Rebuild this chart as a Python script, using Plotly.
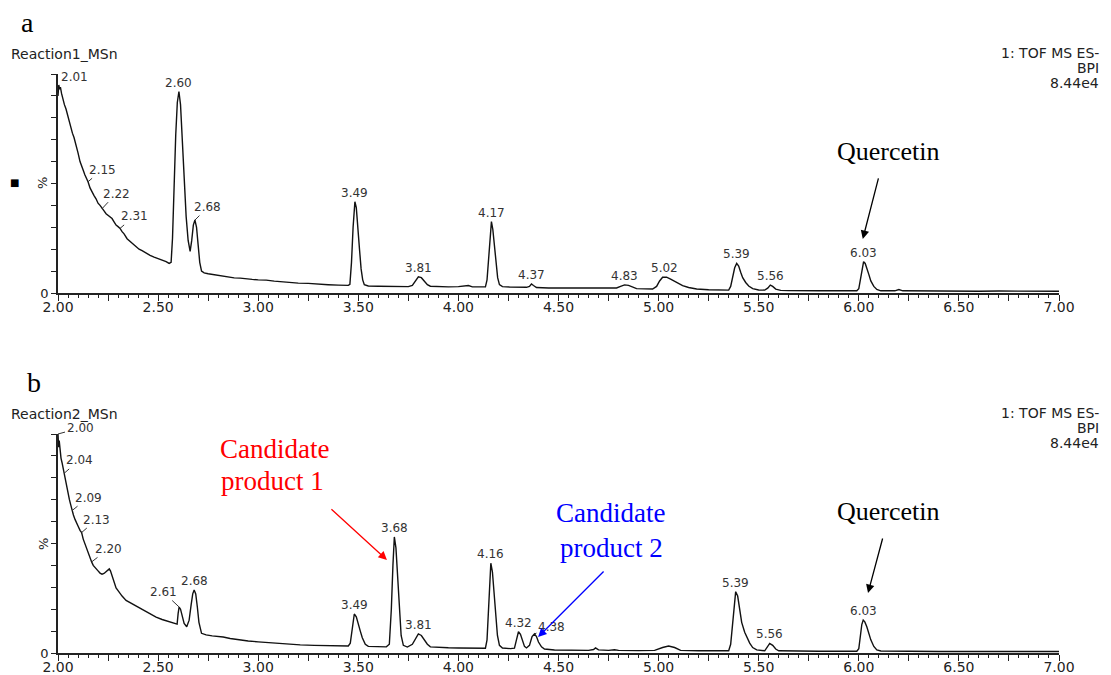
import plotly.graph_objects as go

# ---------------- data ----------------
# Panel a: Reaction1_MSn (retention time, min ; relative intensity, %)
ta_time = [2.000, 2.004, 2.008, 2.012, 2.018, 2.025, 2.032, 2.040, 2.048, 2.056, 2.064, 2.072, 2.080,
           2.090, 2.100, 2.110, 2.118, 2.126, 2.134, 2.142, 2.150, 2.160, 2.170, 2.180, 2.190, 2.200,
           2.210, 2.220, 2.230, 2.240, 2.250, 2.260, 2.270, 2.280, 2.290, 2.300, 2.310, 2.320, 2.330,
           2.345, 2.360, 2.375, 2.390, 2.405, 2.420, 2.440, 2.460, 2.480, 2.500, 2.520, 2.540, 2.555,
           2.565, 2.572, 2.580, 2.588, 2.596, 2.604, 2.612, 2.620, 2.630, 2.640, 2.650, 2.660, 2.668,
           2.676, 2.684, 2.692, 2.700, 2.708, 2.717, 2.730, 2.750, 2.770, 2.790, 2.820, 2.850, 2.880,
           2.910, 2.940, 2.970, 3.000, 3.040, 3.080, 3.120, 3.160, 3.200, 3.250, 3.300, 3.350, 3.400,
           3.450, 3.458, 3.466, 3.474, 3.483, 3.490, 3.498, 3.506, 3.514, 3.522, 3.530, 3.550, 3.600,
           3.650, 3.700, 3.750, 3.770, 3.785, 3.800, 3.815, 3.830, 3.845, 3.860, 3.900, 3.950, 4.000,
           4.050, 4.070, 4.100, 4.135, 4.143, 4.150, 4.158, 4.165, 4.172, 4.180, 4.188, 4.196, 4.205,
           4.220, 4.260, 4.300, 4.340, 4.355, 4.365, 4.375, 4.390, 4.450, 4.500, 4.550, 4.600, 4.650,
           4.700, 4.750, 4.790, 4.810, 4.830, 4.850, 4.870, 4.890, 4.930, 4.970, 4.990, 5.005, 5.020,
           5.040, 5.060, 5.080, 5.100, 5.120, 5.150, 5.190, 5.250, 5.300, 5.350, 5.360, 5.370, 5.380,
           5.390, 5.400, 5.410, 5.420, 5.435, 5.450, 5.470, 5.500, 5.530, 5.545, 5.558, 5.570, 5.585,
           5.610, 5.650, 5.700, 5.800, 5.900, 5.990, 6.000, 6.010, 6.018, 6.024, 6.032, 6.040, 6.050,
           6.060, 6.075, 6.090, 6.110, 6.180, 6.200, 6.220, 6.300, 6.400, 6.500, 6.600, 6.700, 6.800,
           6.900, 7.000]
ta_int = [90, 95, 93, 94, 91, 88, 86, 84, 81, 78, 76, 73, 71,
          68, 64, 60, 57.5, 56, 54, 52.5, 50.8, 48, 46, 44.5, 43, 41,
          40, 38.5, 37.5, 36.2, 35.5, 34.8, 34, 32.5, 31, 30.3, 29.5, 28, 27,
          24.8, 23.5, 22.5, 21, 20, 19.3, 18.1, 17.2, 16.4, 15.8, 15, 14.3, 13.5,
          14, 25, 50, 72, 87, 92, 86, 72, 52, 35, 24, 19, 24,
          31, 33.3, 30, 22, 14, 10, 9.2, 8.8, 8.5, 8.2, 7.6, 7.3, 6.9,
          6.8, 6.4, 6.2, 6.0, 5.9, 5.4, 5.0, 4.9, 4.5, 4.4, 4.0, 3.8, 3.6,
          3.5, 4, 14, 30, 41.7, 39, 31, 20, 11, 6, 3.8, 3.2, 3.1,
          3.0, 3.0, 2.9, 3.5, 5.5, 7.4, 7, 5.2, 3.8, 3.1, 2.9, 2.8, 2.9,
          3.4, 2.8, 2.8, 2.8, 6, 14, 27, 32.6, 29, 22, 13, 7, 3.8,
          2.9, 2.7, 2.6, 2.6, 3.0, 4.1, 3.4, 2.5, 2.3, 2.3, 2.2, 2.2, 2.1,
          2.0, 2.1, 2.3, 3.0, 3.7, 3.5, 2.7, 2.0, 1.9, 1.8, 3.0, 5.5, 7.2,
          7.2, 6.3, 5.3, 4.2, 3.4, 2.5, 1.8, 1.5, 1.4, 1.3, 3, 7.5, 11.5,
          13.5, 12.3, 9.5, 7, 4.8, 3.2, 2.0, 1.4, 1.3, 2.2, 3.6, 3.0, 1.8,
          1.2, 1.1, 1.0, 1.0, 1.0, 1.0, 2, 7, 12, 14.3, 13.5, 11.5, 8.5,
          5.5, 3, 1.6, 1.0, 1.0, 1.6, 1.0, 0.9, 0.9, 0.8, 0.8, 0.9, 0.8,
          0.9, 0.8]

# Panel b: Reaction2_MSn
tb_time = [2.000, 2.003, 2.006, 2.010, 2.015, 2.020, 2.025, 2.030, 2.037, 2.044, 2.050, 2.057, 2.064,
           2.070, 2.077, 2.085, 2.093, 2.100, 2.110, 2.118, 2.126, 2.134, 2.142, 2.150, 2.160, 2.168,
           2.176, 2.184, 2.192, 2.200, 2.210, 2.220, 2.230, 2.240, 2.248, 2.256, 2.262, 2.270, 2.280,
           2.290, 2.300, 2.310, 2.320, 2.340, 2.360, 2.380, 2.410, 2.440, 2.470, 2.490, 2.520, 2.550,
           2.575, 2.595, 2.600, 2.605, 2.612, 2.620, 2.630, 2.643, 2.655, 2.665, 2.673, 2.680, 2.688,
           2.696, 2.704, 2.717, 2.740, 2.770, 2.800, 2.825, 2.860, 2.900, 2.950, 3.000, 3.070, 3.140,
           3.210, 3.280, 3.350, 3.400, 3.450, 3.460, 3.470, 3.480, 3.490, 3.500, 3.510, 3.520, 3.535,
           3.550, 3.600, 3.640, 3.655, 3.665, 3.673, 3.680, 3.688, 3.696, 3.705, 3.714, 3.725, 3.745,
           3.770, 3.785, 3.800, 3.815, 3.830, 3.845, 3.860, 3.900, 3.950, 4.000, 4.050, 4.100, 4.135,
           4.143, 4.150, 4.156, 4.162, 4.170, 4.178, 4.186, 4.195, 4.205, 4.220, 4.260, 4.280, 4.290,
           4.300, 4.310, 4.320, 4.330, 4.340, 4.355, 4.368, 4.380, 4.390, 4.400, 4.415, 4.430, 4.480,
           4.550, 4.600, 4.650, 4.675, 4.685, 4.700, 4.750, 4.780, 4.800, 4.900, 4.980, 5.020, 5.050,
           5.080, 5.110, 5.200, 5.300, 5.350, 5.360, 5.370, 5.380, 5.385, 5.395, 5.405, 5.415, 5.430,
           5.440, 5.455, 5.470, 5.490, 5.530, 5.545, 5.555, 5.570, 5.585, 5.600, 5.700, 5.800, 5.900,
           5.990, 6.000, 6.008, 6.015, 6.022, 6.030, 6.040, 6.050, 6.060, 6.075, 6.090, 6.110, 6.200,
           6.400, 6.600, 6.800, 7.000]
tb_int = [100, 94, 97, 92, 89, 87, 84.5, 82, 80, 76, 73, 70, 67.5,
          65, 63, 61, 59, 58, 56, 55, 52, 50, 47.5, 46, 43.5, 41.6,
          40, 39, 38, 37.5, 36.5, 36, 36.3, 37, 37.8, 38.4, 37.5, 35, 32,
          29.7, 28.5, 27, 26, 24, 23, 22, 20.5, 19, 17.5, 16.4, 15.3, 14.5,
          13.6, 13.2, 18, 21, 20, 17, 13.5, 12, 15, 22, 27, 28.8, 27,
          21, 14, 9, 8.3, 7.8, 7.5, 7.3, 6.6, 6.0, 5.5, 5.1, 4.6, 4.1,
          3.7, 3.5, 3.3, 3.2, 3.2, 4.5, 11, 17.8, 16.5, 12.5, 10, 7, 4,
          3.0, 2.8, 2.8, 4, 20, 40, 53, 48, 34, 18, 8, 3.5, 2.7,
          4, 6.5, 8.7, 8, 6, 4, 2.8, 2.5, 2.4, 2.3, 2.3, 2.2, 2.2,
          6, 17, 31, 41, 37, 28, 17, 8, 3.5, 2.3, 2.0, 2.2, 6,
          9.7, 8.5, 5.5, 3, 2.3, 3.5, 7.5, 8.7, 7.5, 5, 2.8, 1.8, 1.4,
          1.3, 1.3, 1.2, 1.6, 2.3, 1.4, 1.2, 1.5, 1.2, 1.1, 1.2, 2.5, 3.2,
          2.5, 1.2, 1.0, 1.0, 1.0, 4, 14, 24, 28, 26, 20, 14, 9.5,
          7.5, 4.5, 2.5, 1.4, 1.0, 3.0, 4.4, 3.5, 1.8, 1.0, 0.8, 0.8, 0.8,
          0.8, 2, 8, 13, 15, 14.2, 12, 9, 6, 3, 1.4, 0.9, 0.8,
          0.7, 0.7, 0.7, 0.7]

# peak labels (text, apex time, apex intensity)
pa_lab = ["2.01", "2.15", "2.22", "2.31", "2.60", "2.68", "3.49", "3.81", "4.17", "4.37",
          "4.83", "5.02", "5.39", "5.56", "6.03"]
pa_x = [2.005, 2.15, 2.22, 2.31, 2.604, 2.684, 3.483, 3.80, 4.165, 4.365,
        4.83, 5.03, 5.39, 5.558, 6.024]
pa_y = [95, 50.8, 38.5, 29.5, 92, 33.3, 41.7, 7.4, 32.6, 4.1,
        3.7, 7.2, 13.5, 3.6, 14.3]

pb_lab = ["2.00", "2.04", "2.09", "2.13", "2.20", "2.61", "2.68", "3.49", "3.68", "3.81",
          "4.16", "4.32", "4.38", "5.39", "5.56", "6.03"]
pb_x = [2.0, 2.03, 2.07, 2.118, 2.168, 2.605, 2.68, 3.483, 3.68, 3.80,
        4.162, 4.30, 4.38, 5.385, 5.555, 6.022]
pb_y = [100, 82, 65, 55, 41.6, 21, 28.8, 17.8, 53, 8.7,
        41, 9.7, 8.7, 28, 4.4, 15]

# arrow targets (time, intensity) for the callouts
quercetin_a = (6.02, 24.7)
quercetin_b = (6.046, 27.4)
product1_b = (3.643, 42.5)
product2_b = (4.398, 7.3)

# ---------------- styling ----------------
W, H = 1111, 675
SANS = "DejaVu Sans"
SERIF = "Liberation Serif"
INK = "#222222"
LABEL = "#333333"

leader_a = {"2.01": (15, -8), "2.15": (14, -12), "2.22": (14, -15), "2.31": (14, -12), "2.68": (13, -13)}
leader_b = {"2.00": (22, -6), "2.04": (15, -13), "2.09": (16, -13), "2.13": (15, -13),
            "2.20": (17, -13), "2.61": (-16, -15), "4.38": (17, -7)}


def px_x(p):
    return p / W


def px_y(p):
    return 1 - p / H


fig = go.Figure()
fig.add_trace(go.Scatter(x=ta_time, y=ta_int, mode="lines", xaxis="x", yaxis="y",
                         line=dict(color="#111111", width=1.4), showlegend=False, hoverinfo="skip"))
fig.add_trace(go.Scatter(x=tb_time, y=tb_int, mode="lines", xaxis="x2", yaxis="y2",
                         line=dict(color="#111111", width=1.4), showlegend=False, hoverinfo="skip"))

xdom = [px_x(58), px_x(1059)]


def xaxis(anchor):
    return dict(domain=xdom, anchor=anchor, range=[2, 7], showgrid=False, zeroline=False,
                automargin=False,
                showline=True, linecolor=INK, linewidth=1.5, ticks="outside", tickmode="linear",
                tick0=2, dtick=0.25, ticklabelstep=2, tickformat=".2f", ticklen=6, tickwidth=1.2,
                ticklabelstandoff=-6,
                tickcolor=INK, tickfont=dict(family=SANS, size=14, color=INK),
                minor=dict(dtick=0.05, tick0=2, ticks="outside", ticklen=3, tickwidth=1, tickcolor=INK),
                fixedrange=True)


def yaxis(anchor, top, bottom):
    return dict(domain=[px_y(bottom), px_y(top)], anchor=anchor, range=[0, 100], showgrid=False,
                zeroline=False, showline=True, linecolor=INK, linewidth=1.5, ticks="outside",
                automargin=False,
                tickmode="array", tickvals=[0, 10, 20, 30, 40, 50, 60, 70, 80, 90, 100],
                ticktext=["0", "", "", "", "", "", "", "", "", "", ""], ticklen=5, tickwidth=1.2,
                tickcolor=INK, tickfont=dict(family=SANS, size=13, color=INK), fixedrange=True)


fig.update_layout(
    width=W, height=H, autosize=False, margin=dict(l=0, r=0, t=0, b=0, pad=0),
    paper_bgcolor="white", plot_bgcolor="white",
    xaxis=xaxis("y"), yaxis=yaxis("x", 74, 293),
    xaxis2=xaxis("y2"), yaxis2=yaxis("x2", 434, 653),
)

ann = []


def peak_labels(labels, xs, ys, leaders, xr, yr):
    for t, x, y in zip(labels, xs, ys):
        if t in leaders:
            ax, ay = leaders[t]
            ann.append(dict(x=x, y=y, xref=xr, yref=yr, text=t, showarrow=True, arrowhead=0,
                            arrowwidth=1, arrowcolor="#333333", ax=ax, ay=ay, standoff=0,
                            font=dict(family=SANS, size=12, color=LABEL)))
        else:
            ann.append(dict(x=x, y=y, xref=xr, yref=yr, text=t, showarrow=False,
                            yanchor="bottom", xanchor="center", yshift=0,
                            font=dict(family=SANS, size=12, color=LABEL)))


peak_labels(pa_lab, pa_x, pa_y, leader_a, "x", "y")
peak_labels(pb_lab, pb_x, pb_y, leader_b, "x2", "y2")


def ptext(x, y, text, family=SANS, size=14, color=INK, xanchor="left", angle=0):
    ann.append(dict(x=px_x(x), y=px_y(y), xref="paper", yref="paper", text=text, showarrow=False,
                    xanchor=xanchor, yanchor="middle", textangle=angle,
                    font=dict(family=family, size=size, color=color)))


# panel letters and headers
ptext(19, 22, "a", family=SERIF, size=28, color="#000000")
ptext(25, 382, "b", family=SERIF, size=28, color="#000000")
ptext(9, 54, "Reaction1_MSn", size=14)
ptext(9, 414, "Reaction2_MSn", size=14)
for y0 in (53, 413):
    ptext(1101, y0, "1: TOF MS ES-", size=14, xanchor="right")
    ptext(1101, y0 + 15, "BPI", size=14, xanchor="right")
    ptext(1101, y0 + 30, "8.44e4", size=14, xanchor="right")

# y-axis "%" markers
ptext(43, 183, "%", size=13, xanchor="center", angle=-90)
ptext(43, 544, "%", size=13, xanchor="center", angle=-90)
ptext(14, 183, "■", size=10, color="#000000", xanchor="center")

# callout texts
ptext(888, 151, "Quercetin", family=SERIF, size=26, color="#000000", xanchor="center")
ptext(888, 511, "Quercetin", family=SERIF, size=26, color="#000000", xanchor="center")
ptext(274, 449, "Candidate", family=SERIF, size=27, color="#FF0000", xanchor="center")
ptext(272, 481, "product 1", family=SERIF, size=27, color="#FF0000", xanchor="center")
ptext(610, 513, "Candidate", family=SERIF, size=27, color="#0000FF", xanchor="center")
ptext(611, 548, "product 2", family=SERIF, size=27, color="#0000FF", xanchor="center")


def arrow(pt, xr, yr, ax, ay, color):
    ann.append(dict(x=pt[0], y=pt[1], xref=xr, yref=yr, text="", showarrow=True, arrowhead=2,
                    arrowsize=1.3, arrowwidth=1.3, arrowcolor=color, ax=ax, ay=ay, standoff=0))


arrow(quercetin_a, "x", "y", 16, -62, "#000000")
arrow(quercetin_b, "x2", "y2", 15, -56, "#000000")
arrow(product1_b, "x2", "y2", -57, -52, "#FF0000")
arrow(product2_b, "x2", "y2", 67, -67, "#0000FF")

fig.update_layout(annotations=ann)

fig.write_html("out.html", config={"displayModeBar": False},
               post_script="document.body.style.margin='0';document.body.style.overflow='hidden';")
